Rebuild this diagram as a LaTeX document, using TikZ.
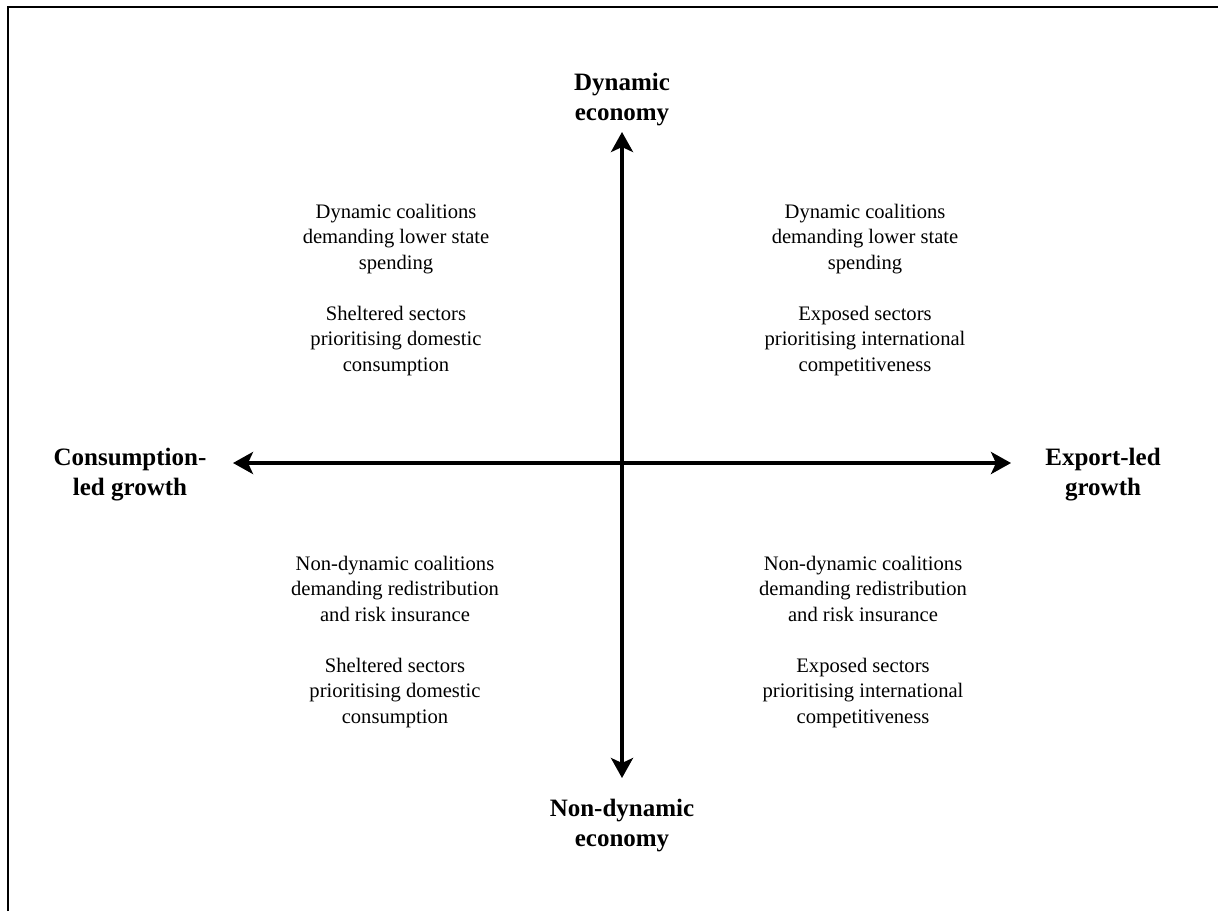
\documentclass[tikz,border=0pt]{standalone}
\usepackage{fontspec}
\setmainfont{Liberation Serif}
\usetikzlibrary{arrows.meta}
\begin{document}
\begin{tikzpicture}[x=0.5pt,y=-0.5pt,
  axis/.style={line width=2pt,{Stealth[length=10pt,width=11pt,inset=2.5pt]}-{Stealth[length=10pt,width=11pt,inset=2.5pt]}},
  pole/.style={align=center,font=\fontsize{12.5}{15}\selectfont\bfseries,inner sep=0pt},
  quad/.style={align=center,font=\fontsize{10.3}{12.75}\selectfont,inner sep=0pt}]
\useasboundingbox (0,0) rectangle (1218,911);
\draw[line width=0.8pt] (8,911) -- (8,7) -- (1218,7);
% poles
\node[pole] (top) at (622,100) {Dynamic\\economy};
\node[pole] (bottom) at (622,826) {Non-dynamic\\economy};
\node[pole] (left) at (130,475) {Consumption-\\led growth};
\node[pole] (right) at (1103,475) {Export-led\\growth};
\coordinate (ytop) at (622,132);
\coordinate (ybot) at (622,778);
\coordinate (xl) at (233,463);
\coordinate (xr) at (1011,463);
\draw[axis] (ybot) -- (ytop);
\draw[axis] (xl) -- (xr);
% quadrants
\node[quad] (tl) at (396,290) {Dynamic coalitions\\demanding lower state\\spending\\[12.75pt]Sheltered sectors\\prioritising domestic\\consumption};
\node[quad] (tr) at (865,290) {Dynamic coalitions\\demanding lower state\\spending\\[12.75pt]Exposed sectors\\prioritising international\\competitiveness};
\node[quad] (bl) at (395,642) {Non-dynamic coalitions\\demanding redistribution\\and risk insurance\\[12.75pt]Sheltered sectors\\prioritising domestic\\consumption};
\node[quad] (br) at (863,642) {Non-dynamic coalitions\\demanding redistribution\\and risk insurance\\[12.75pt]Exposed sectors\\prioritising international\\competitiveness};
\end{tikzpicture}
\end{document}
